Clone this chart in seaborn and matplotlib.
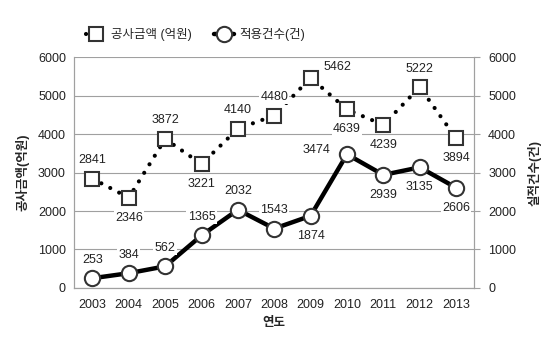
import matplotlib
matplotlib.use("Agg")
import matplotlib.pyplot as plt
import seaborn as sns
import pandas as pd

years = ["2003", "2004", "2005", "2006", "2007", "2008", "2009", "2010", "2011", "2012", "2013"]
amount = [2841, 2346, 3872, 3221, 4140, 4480, 5462, 4639, 4239, 5222, 3894]
count = [253, 384, 562, 1365, 2032, 1543, 1874, 3474, 2939, 3135, 2606]
amount_pos = ["above", "below", "above", "below", "above", "above", "right", "below", "below", "above", "below"]
count_pos = ["above", "above", "above", "above", "above", "above", "below", "left", "below", "below", "below"]
yticks = [0, 1000, 2000, 3000, 4000, 5000, 6000]

sns.set_theme(style="white")
plt.rcParams['font.family'] = ['Liberation Sans', 'Noto Sans CJK KR', 'DejaVu Sans']

df = pd.DataFrame({"idx": range(len(years)), "year": years, "amount": amount, "count": count})

fig = plt.figure(figsize=(5.42, 3.42), dpi=100)
ax = fig.add_axes([0.137, 0.158, 0.738, 0.675])
ax2 = ax.twinx()

sns.lineplot(data=df, x="idx", y="amount", ax=ax, color="black", linewidth=3,
             linestyle=(0, (0.01, 2.4)), dash_capstyle="round",
             marker="s", markersize=10, markerfacecolor="white", markeredgecolor="#333333",
             markeredgewidth=1.5, label="공사금액 (억원)", legend=False, zorder=3)
sns.lineplot(data=df, x="idx", y="count", ax=ax2, color="black", linewidth=3.2,
             marker="o", markersize=11, markerfacecolor="white", markeredgecolor="#333333",
             markeredgewidth=1.5, label="적용건수(건)", legend=False, zorder=3)

for a in (ax, ax2):
    a.set_ylim(0, 6000)
    a.set_yticks(yticks)
    a.set_xlim(-0.5, len(years) - 0.5)
    for s in a.spines.values():
        s.set_color("#a0a0a0")
        s.set_linewidth(0.8)
    a.spines["top"].set_visible(False)

ax.set_xticks(range(len(years)))
ax.set_xticklabels(years)
ax.yaxis.grid(True, color="#a0a0a0", linewidth=0.8)
ax.set_axisbelow(True)
ax.tick_params(axis="both", labelsize=9, colors="#333333", length=0, pad=6)
ax.tick_params(axis="x", pad=8)
ax2.tick_params(axis="y", labelsize=9, colors="#333333", length=4, width=0.8, pad=6)
ax2.tick_params(axis="y", which="both", color="#a0a0a0")
for lab in ax.get_yticklabels() + ax.get_xticklabels() + ax2.get_yticklabels():
    lab.set_color("#222222")

ax.set_xticks([i - 0.5 for i in range(len(years) + 1)], minor=True)
ax.tick_params(axis="x", which="minor", length=4, width=0.8, color="#a0a0a0", direction="out")

ax.set_xlabel("연도", fontsize=9, fontweight="bold", labelpad=4)
ax.set_ylabel("공사금액(억원)", fontsize=9, fontweight="bold", labelpad=6)
ax2.set_ylabel("실적건수(건)", fontsize=9, fontweight="bold", rotation=90, labelpad=8)

def annotate(a, vals, poss):
    for i, (v, p) in enumerate(zip(vals, poss)):
        off = {"above": (0, 9), "below": (0, -10), "left": (-12, 3), "right": (9, 8)}[p]
        ha = {"above": "center", "below": "center", "left": "right", "right": "left"}[p]
        va = {"above": "bottom", "below": "top", "left": "center", "right": "center"}[p]
        a.annotate(str(v), (i, v), xytext=off, textcoords="offset points",
                   ha=ha, va=va, fontsize=9, color="#222222", zorder=5,
                   bbox=dict(boxstyle="square,pad=0.1", fc="white", ec="none"))

annotate(ax, amount, amount_pos)
annotate(ax2, count, count_pos)

h1, l1 = ax.get_legend_handles_labels()
h2, l2 = ax2.get_legend_handles_labels()
fig.legend(h1 + h2, l1 + l2, loc="center", bbox_to_anchor=(0.36, 0.898), ncol=2,
           frameon=False, fontsize=9, handlelength=1.6, columnspacing=1.8,
           handletextpad=0.4)

fig.savefig("out.png", dpi=100)
